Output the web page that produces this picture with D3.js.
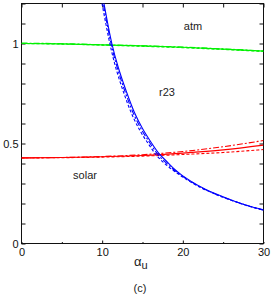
<!DOCTYPE html>
<html>
<head>
<meta charset="utf-8">
<script src="https://cdn.jsdelivr.net/npm/d3@7"></script>
<style>
  body { margin: 0; background: #fff; }
  svg { display: block; font-family: "Liberation Sans", Arial, sans-serif; }
  .frame { fill: none; stroke: #111; stroke-width: 1; }
  .tick line { stroke: #111; }
  .tick text { font-size: 11px; fill: #111; }
  .domain { display: none; }
  .lbl { font-size: 11px; fill: #222; }
</style>
</head>
<body>
<svg id="chart" width="273" height="299"></svg>
<script>
// values
const xTicks = [0, 5, 10, 15, 20, 25, 30];
const xLabels = [0, 10, 20, 30];
const yTicks = [0, 0.1, 0.2, 0.3, 0.4, 0.5, 0.6, 0.7, 0.8, 0.9, 1, 1.1, 1.2];
const yLabels = [0, 0.5, 1];

const greenSolid = [[0, 1.0], [5, 0.998], [10, 0.993], [15, 0.988], [20, 0.981], [25, 0.972], [30, 0.962]];
const greenDash = [[0, 1.0], [5, 0.997], [10, 0.992], [15, 0.986], [20, 0.979], [25, 0.970], [30, 0.960]];
const greenDashDot = [[0, 1.002], [5, 0.999], [10, 0.994], [15, 0.989], [20, 0.982], [25, 0.973], [30, 0.963]];

const redSolid = [[0, 0.428], [5, 0.430], [10, 0.434], [15, 0.440], [20, 0.452], [25, 0.468], [30, 0.492]];
const redDash = [[0, 0.428], [5, 0.429], [10, 0.432], [15, 0.437], [20, 0.445], [25, 0.455], [30, 0.470]];
const redDashDot = [[0, 0.428], [5, 0.430], [10, 0.435], [15, 0.444], [20, 0.460], [25, 0.484], [30, 0.515]];

const blueSolid = [[10.0, 1.25], [11.2, 1.0], [12, 0.88], [13, 0.76], [14, 0.655], [15, 0.575], [16, 0.51], [17, 0.452],
  [18, 0.41], [19, 0.37], [20, 0.338], [22, 0.288], [24, 0.25], [26, 0.218], [28, 0.19], [30, 0.168]];
const blueDash = [[9.75, 1.25], [10.95, 1.0], [11.75, 0.87], [12.75, 0.745], [13.75, 0.64], [14.75, 0.56], [15.75, 0.497], [16.75, 0.44],
  [17.8, 0.398], [19, 0.36], [20, 0.332], [22, 0.284], [24, 0.247], [26, 0.216], [28, 0.189], [30, 0.166]];
const blueDashDot = [[9.9, 1.25], [11.1, 1.0], [11.9, 0.875], [12.9, 0.752], [13.9, 0.648], [14.9, 0.568], [15.9, 0.504], [16.9, 0.446],
  [17.9, 0.404], [19, 0.365], [20, 0.335], [22, 0.286], [24, 0.248], [26, 0.217], [28, 0.19], [30, 0.167]];

const svg = d3.select("#chart");

const x = d3.scaleLinear().domain([0, 30]).range([21.5, 263.5]);
const y = d3.scaleLinear().domain([0, 1.2]).range([243.5, 3.5]);

svg.append("defs").append("clipPath").attr("id", "plot")
  .append("rect").attr("x", 21.5).attr("y", 3.5).attr("width", 242).attr("height", 240);

// axes, ticks inward
svg.append("g").attr("transform", "translate(0,243.5)")
  .call(d3.axisBottom(x).tickValues(xTicks).tickSize(0).tickPadding(5)
    .tickFormat(d => xLabels.includes(d) ? d : ""))
  .selectAll(".tick line")
  .attr("y2", d => xLabels.includes(d) && d % 30 !== 0 ? -3 : -1.5);

svg.append("g").attr("transform", "translate(0,3.5)")
  .call(d3.axisTop(x).tickValues(xTicks).tickSize(-4).tickFormat(""));

svg.append("g").attr("transform", "translate(21.5,0)")
  .call(d3.axisLeft(y).tickValues(yTicks).tickSize(-4).tickPadding(3)
    .tickFormat(d => yLabels.some(v => Math.abs(v - d) < 1e-9) ? d3.format("~g")(d) : ""));

svg.append("g").attr("transform", "translate(263.5,0)")
  .call(d3.axisRight(y).tickValues(yTicks).tickSize(-4).tickFormat(""));

svg.append("rect").attr("class", "frame")
  .attr("x", 21.5).attr("y", 3.5).attr("width", 242).attr("height", 240);

const line = d3.line().x(d => x(d[0])).y(d => y(d[1])).curve(d3.curveMonotoneX);
const lineB = d3.line().x(d => x(d[0])).y(d => y(d[1])).curve(d3.curveCatmullRom);

const curves = [
  { data: greenSolid, color: "#00f000", dash: null, gen: line },
  { data: greenDash, color: "#00f000", dash: "3,2", gen: line },
  { data: greenDashDot, color: "#00f000", dash: "6,2,2,2", gen: line },
  { data: redSolid, color: "#ff0000", dash: null, gen: line },
  { data: redDash, color: "#ff0000", dash: "3,2", gen: line },
  { data: redDashDot, color: "#ff0000", dash: "6,2,2,2", gen: line },
  { data: blueSolid, color: "#0000ff", dash: null, gen: lineB },
  { data: blueDash, color: "#0000ff", dash: "3,2", gen: lineB },
  { data: blueDashDot, color: "#0000ff", dash: "6,2,2,2", gen: lineB }
];

svg.append("g").attr("clip-path", "url(#plot)")
  .selectAll("path").data(curves).join("path")
  .attr("d", c => c.gen(c.data))
  .attr("fill", "none")
  .attr("stroke", c => c.color)
  .attr("stroke-width", 1.1)
  .attr("stroke-dasharray", c => c.dash);

// region labels
svg.append("text").attr("class", "lbl").attr("x", 193).attr("y", 30).attr("text-anchor", "middle").text("atm");
svg.append("text").attr("class", "lbl").attr("x", 167).attr("y", 96).attr("text-anchor", "middle").text("r23");
svg.append("text").attr("class", "lbl").attr("x", 85).attr("y", 179).attr("text-anchor", "middle").text("solar");

// axis title and panel tag
const xt = svg.append("text").attr("class", "lbl").attr("x", 134).attr("y", 266);
xt.append("tspan").attr("font-size", "13px").text("α");
xt.append("tspan").attr("dy", 3).attr("font-size", "11px").text("u");

svg.append("text").attr("class", "lbl").attr("x", 140).attr("y", 292).attr("text-anchor", "middle").text("(c)");
</script>
</body>
</html>
